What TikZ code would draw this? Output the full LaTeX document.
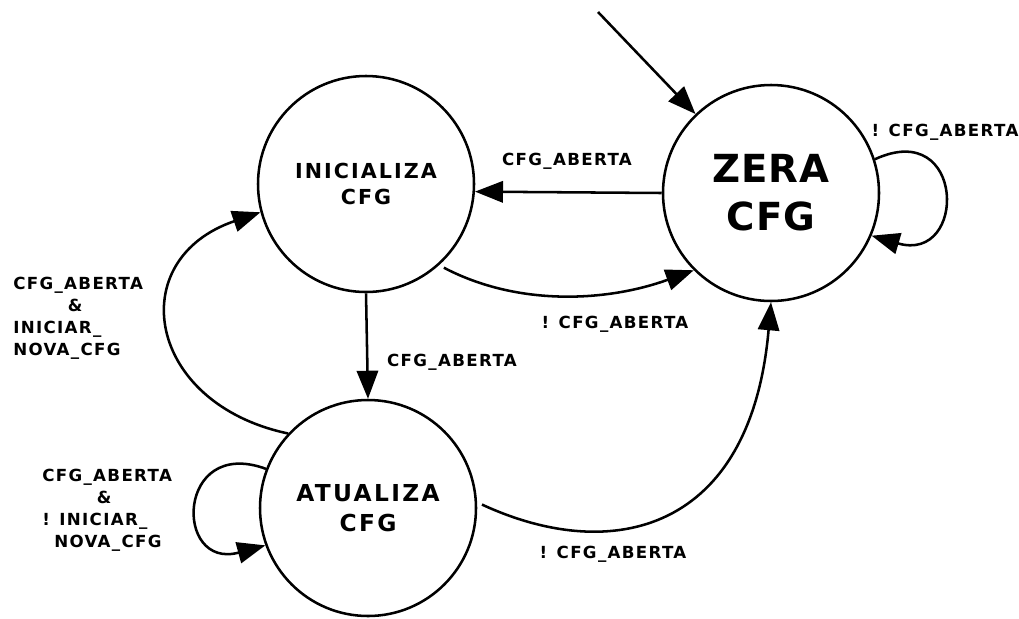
\documentclass[tikz,border=0pt]{standalone}
\usepackage{fontspec}
\setmainfont{DejaVu Sans}
\newfontfamily\lblfont{DejaVu Sans}[LetterSpace=8]
\newfontfamily\statefont{DejaVu Sans}[LetterSpace=10]
\newfontfamily\bigfont{DejaVu Sans}[LetterSpace=2]
\usetikzlibrary{arrows.meta}
\begin{document}
\begin{tikzpicture}[x=0.75pt,y=-0.75pt,
  state/.style={circle, draw, line width=1.9pt, minimum size=162pt,
    inner sep=0pt, align=center},
  trans/.style={line width=1.9pt, -{Triangle[length=21pt,width=16pt]}},
  lbl/.style={font=\lblfont\bfseries\fontsize{12.5}{16.5}\selectfont, inner sep=0pt}
]
\useasboundingbox (0,0) rectangle (1019,618);

% states
\node[state, font=\statefont\bfseries\fontsize{15.5}{20}\selectfont] (ini) at (366,184) {INICIALIZA\\CFG};
\node[state, font=\bigfont\bfseries\fontsize{29}{36}\selectfont] (zera) at (771,193) {ZERA\\CFG};
\node[state, font=\statefont\bfseries\fontsize{17.5}{22.5}\selectfont] (atu) at (368,508) {ATUALIZA\\CFG};

% initial transition
\coordinate (entry) at (598,12);
\draw[trans] (entry) -- (zera);

% transitions
\draw[trans] (zera.180) -- (ini.-4);
\draw[trans, shorten <=4pt] (ini.-48) .. controls +(80,42) and +(-85,31) .. (zera.-135);
\draw[trans] (ini.south) -- (atu.north);
\draw[trans] (atu.137) .. controls +(-142,-30) and +(-138,47) .. (ini.-165);
\draw[trans] (atu.159) .. controls +(-90,-33) and +(-92,25) .. (atu.-160);
\draw[trans, shorten <=4pt] (atu.3) .. controls +(136,63) and +(-20,229) .. (zera.south);
\draw[trans] (zera.18) .. controls +(91,-42) and +(96,28) .. (zera.-23);

% transition labels
\node[lbl, anchor=base] (l1) at (567,165) {CFG\_ABERTA};
\node[lbl, anchor=base] (l2) at (945,136) {! CFG\_ABERTA};
\node[lbl, anchor=base] (l3) at (615,328) {! CFG\_ABERTA};
\node[lbl, anchor=base] (l4) at (452,366) {CFG\_ABERTA};
\node[lbl, anchor=base] (l5) at (613,558) {! CFG\_ABERTA};
\node[lbl, align=left, anchor=north west] (l6) at (13,277)
  {CFG\_ABERTA\\\hspace*{41pt}\&\\INICIAR\_\\NOVA\_CFG};
\node[lbl, align=left, anchor=north west] (l7) at (42,469)
  {CFG\_ABERTA\\\hspace*{41pt}\&\\! INICIAR\_\\\hspace*{9pt}NOVA\_CFG};
\end{tikzpicture}
\end{document}
